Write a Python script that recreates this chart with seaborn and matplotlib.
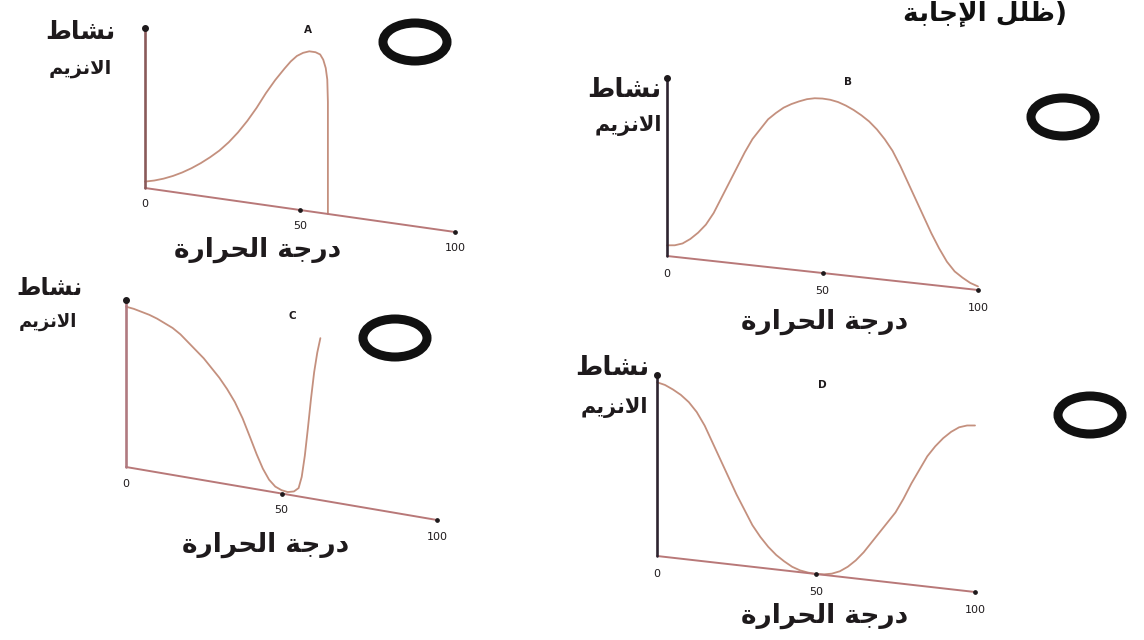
import numpy as np
import pandas as pd
import matplotlib
matplotlib.use('Agg')
import matplotlib.pyplot as plt
import matplotlib.transforms as mtransforms
from matplotlib.patches import Ellipse
import seaborn as sns

# Curve readings: temperature (0-100) vs enzyme activity (top of y axis = 1)
temp_a = [0, 3, 6, 9, 12, 15, 18, 21, 24, 27, 30, 33, 36, 39, 42, 45, 47, 49, 51, 53, 55,
          56.5, 57.5, 58.3, 58.8, 59, 59, 59]
act_a = [0.04, 0.055, 0.075, 0.10, 0.13, 0.165, 0.205, 0.25, 0.30, 0.36, 0.43, 0.51, 0.60,
         0.70, 0.79, 0.87, 0.92, 0.96, 0.985, 1.0, 1.0, 0.99, 0.96, 0.91, 0.84, 0.7, 0.4, 0.0]

temp_b = [0, 2.5, 5, 7.5, 10, 12.5, 15, 17.5, 20, 22.5, 25, 27.5, 30, 32.5, 35, 37.5, 40,
          42.5, 45, 47.5, 50, 52.5, 55, 57.5, 60, 62.5, 65, 67.5, 70, 72.5, 75, 77.5, 80,
          82.5, 85, 87.5, 90, 92.5, 95, 97.5, 100]
act_b = [0.06, 0.065, 0.08, 0.11, 0.15, 0.2, 0.27, 0.36, 0.45, 0.54, 0.63, 0.71, 0.77, 0.83,
         0.87, 0.905, 0.93, 0.95, 0.967, 0.977, 0.98, 0.978, 0.97, 0.955, 0.935, 0.91, 0.88,
         0.84, 0.79, 0.73, 0.65, 0.56, 0.47, 0.38, 0.29, 0.21, 0.14, 0.09, 0.06, 0.035, 0.02]

temp_c = [0, 2.5, 5, 7.5, 10, 12.5, 15, 17.5, 20, 22.5, 25, 27.5, 30, 32.5, 35, 37.5, 40,
          42, 44, 46, 48, 50, 52, 54, 55.5, 56.5, 57.5, 58.5, 59.5, 60.5, 61.5, 62.5]
act_c = [0.96, 0.955, 0.945, 0.935, 0.92, 0.90, 0.88, 0.85, 0.81, 0.77, 0.73, 0.68, 0.63,
         0.57, 0.5, 0.41, 0.3, 0.21, 0.13, 0.07, 0.035, 0.02, 0.015, 0.025, 0.05, 0.12, 0.25,
         0.42, 0.6, 0.76, 0.88, 0.97]

temp_d = [0, 2.5, 5, 7.5, 10, 12.5, 15, 17.5, 20, 22.5, 25, 27.5, 30, 32.5, 35, 37.5, 40,
          42.5, 45, 47.5, 50, 52.5, 55, 57.5, 60, 62.5, 65, 67.5, 70, 72.5, 75, 77.5, 80,
          82.5, 85, 87.5, 90, 92.5, 95, 97.5, 100]
act_d = [0.96, 0.95, 0.93, 0.905, 0.87, 0.82, 0.75, 0.66, 0.57, 0.48, 0.39, 0.31, 0.23, 0.17,
         0.12, 0.08, 0.05, 0.025, 0.01, 0.003, 0.0, 0.003, 0.012, 0.03, 0.06, 0.1, 0.15, 0.21,
         0.27, 0.33, 0.39, 0.47, 0.56, 0.64, 0.72, 0.78, 0.83, 0.87, 0.9, 0.915, 0.92]

panel_letters = ['A', 'B', 'C', 'D']
tick_vals = [0, 50, 100]
tick_labels = ['0', '50', '100']

# Arabic labels (presentation forms, visual order)
txt_activity = '\uFEC1\uFE8E\uFEB8\uFEE7'
txt_enzyme = '\uFEE2\uFEF3\uFEB0\uFEE7\uFEFB\uFE8D'
txt_temp = '\uFE93\uFEAD\uFE8D\uFEAE\uFEA4\uFEDF\uFE8D \uFE94\uFE9F\uFEAD\uFEA9'
txt_header = '\uFE94\uFE91\uFE8E\uFE9F\uFEF9\uFE8D \uFEDE\uFEE0\uFEC7)'

curves = [(temp_a, act_a), (temp_b, act_b), (temp_c, act_c), (temp_d, act_d)]

# layout in pixels: origin, x-axis end, top of y axis
layout = [
    dict(o=(145, 188), e=(455, 232), top=28, ycol='#8a5a5a',
         act=(80, 32), enz=(80, 68), tmp=(258, 250), let=(308, 30), ring=(415, 42),
         fs=18, tfs=19),
    dict(o=(667, 256), e=(978, 290), top=78, ycol='#2e2430',
         act=(624, 90), enz=(628, 126), tmp=(825, 322), let=(848, 82), ring=(1063, 117),
         fs=19, tfs=19),
    dict(o=(126, 467), e=(437, 520), top=300, ycol='#b07a80',
         act=(50, 288), enz=(48, 322), tmp=(266, 545), let=(292, 316), ring=(395, 338),
         fs=17, tfs=19),
    dict(o=(657, 556), e=(975, 592), top=375, ycol='#2e2430',
         act=(612, 368), enz=(614, 408), tmp=(825, 616), let=(822, 385), ring=(1090, 415),
         fs=19, tfs=19),
]

W, H = 1144, 640
sns.set_style('white')
plt.rcParams['font.family'] = ['DejaVu Sans']

curve_col = '#c4907e'
xaxis_col = '#b87878'
text_col = '#1e1a1c'


def fx(x):
    return x / W


def fy(y):
    return 1 - y / H


fig = plt.figure(figsize=(W / 100, H / 100), dpi=100)
fig.patch.set_facecolor('white')

for (temps, acts), spec, letter in zip(curves, layout, panel_letters):
    ox, oy = spec['o']
    ex, ey = spec['e']
    h = oy - spec['top']
    ax = fig.add_axes([fx(ox), fy(oy), (ex - ox) / W, h / H])
    ax.set_xlim(0, 100)
    ax.set_ylim(0, 1)
    ax.axis('off')

    # photo tilt: x axis slopes down to the right
    k = (ey - oy) / h
    skew = mtransforms.Affine2D(np.array([[1, 0, 0], [-k, 1, 0], [0, 0, 1]]))
    tr = ax.transScale + ax.transLimits + skew + ax.transAxes

    df = pd.DataFrame({'temp': temps, 'act': acts})
    sns.lineplot(data=df, x='temp', y='act', ax=ax, color=curve_col, lw=1.3,
                 sort=False, estimator=None)
    ax.lines[-1].set_transform(tr)
    ax.lines[-1].set_clip_on(False)

    # axes lines
    ax.plot(tick_vals, [0] * len(tick_vals), color=xaxis_col, lw=1.4, transform=tr, clip_on=False)
    ax.plot([0, 0], [0, 1], color=spec['ycol'], lw=1.9, transform=tr, clip_on=False)
    ax.plot([0], [1], 'o', ms=4, color=text_col, transform=tr, clip_on=False)
    ax.plot(tick_vals[1:], [0, 0], 'o', ms=2.4, color=text_col, transform=tr, clip_on=False)
    for t, lab in zip(tick_vals, tick_labels):
        ax.text(t, -0.1, lab, transform=tr, ha='center', va='center', fontsize=8, color=text_col)

    fig.text(fx(spec['let'][0]), fy(spec['let'][1]), letter, ha='center', va='center',
             fontsize=7.5, fontweight='bold', color=text_col)
    fig.text(fx(spec['act'][0]), fy(spec['act'][1]), txt_activity, ha='center', va='center',
             fontsize=spec['fs'], fontweight='bold', color=text_col)
    fig.text(fx(spec['enz'][0]), fy(spec['enz'][1]), txt_enzyme, ha='center', va='center',
             fontsize=spec['fs'] - 4, fontweight='bold', color=text_col)
    fig.text(fx(spec['tmp'][0]), fy(spec['tmp'][1]), txt_temp, ha='center', va='center',
             fontsize=spec['tfs'], fontweight='bold', color=text_col)

    rx, ry = spec['ring']
    fig.add_artist(Ellipse((fx(rx), fy(ry)), 64 / W, 38 / H, transform=fig.transFigure,
                           fill=False, lw=6.5, edgecolor='#111111'))

fig.text(fx(985), fy(1), txt_header, ha='center', va='top', fontsize=19, fontweight='bold',
         color='#111111')

plt.savefig('out.png', dpi=100, facecolor='white')
